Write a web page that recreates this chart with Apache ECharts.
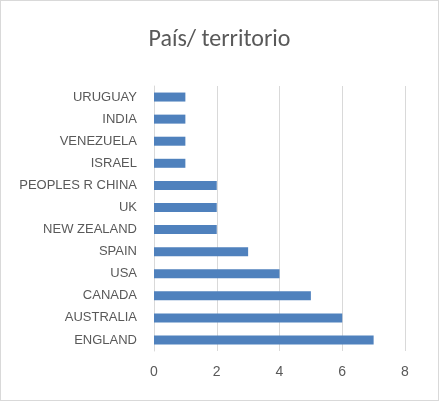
<!DOCTYPE html>
<html><head><meta charset="utf-8">
<script src="https://cdn.jsdelivr.net/npm/echarts@6/dist/echarts.min.js"></script>
<style>html,body{margin:0;padding:0;background:#fff}#c{width:439px;height:401px;box-sizing:border-box;border:1px solid #d9d9d9}</style>
</head><body><div id="c"></div>
<script>
const categories=["ENGLAND","AUSTRALIA","CANADA","USA","SPAIN","NEW ZEALAND","UK","PEOPLES R CHINA","ISRAEL","VENEZUELA","INDIA","URUGUAY"];
const values=[7,6,5,4,3,2,2,2,1,1,1,1];
const xTicks={min:0,max:8,interval:2};
const chart=echarts.init(document.getElementById('c'));
chart.setOption({
  animation:false,
  title:{text:'País/ territorio',left:'center',top:22,textStyle:{fontFamily:'Calibri, Carlito, "Liberation Sans", sans-serif',fontSize:24,fontWeight:'normal',color:'#595959'}},
  grid:{left:153,right:33,top:85,bottom:49},
  xAxis:{type:'value',min:xTicks.min,max:xTicks.max,interval:xTicks.interval,
    axisLine:{show:false},axisTick:{show:false},
    splitLine:{lineStyle:{color:'#d9d9d9'}},
    axisLabel:{color:'#595959',fontSize:14,margin:14,fontFamily:'"Liberation Sans", sans-serif'}},
  yAxis:{type:'category',data:categories,
    axisLine:{lineStyle:{color:'#d9d9d9'}},axisTick:{show:false},
    axisLabel:{color:'#595959',fontSize:13,margin:17,fontFamily:'"Liberation Sans", sans-serif'}},
  series:[{type:'bar',data:values,barWidth:9,itemStyle:{color:'#4f81bd'}}]
});
</script></body></html>
